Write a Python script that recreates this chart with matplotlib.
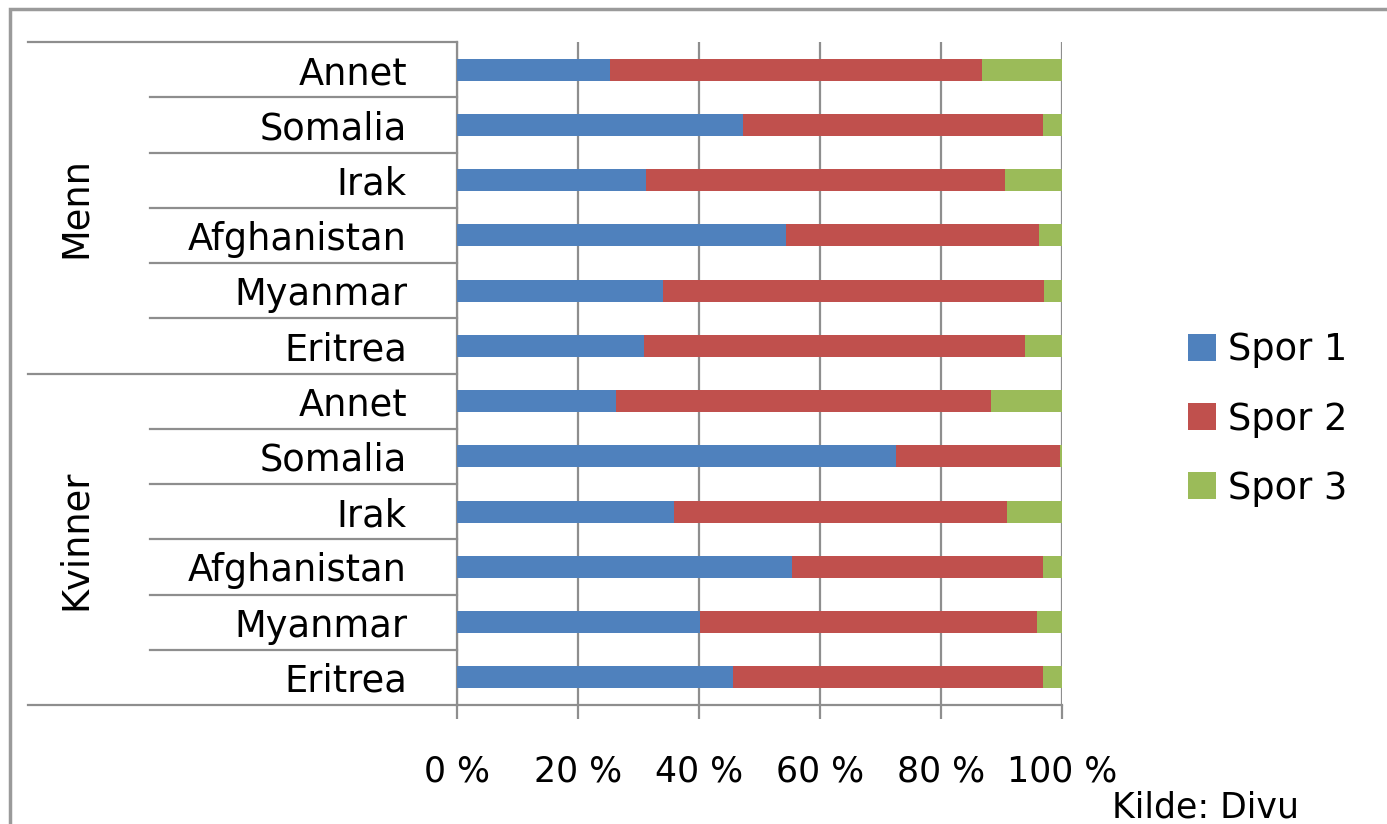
import matplotlib
matplotlib.use("Agg")
import matplotlib.pyplot as plt
from matplotlib.patches import Rectangle
import numpy as np

plt.rcParams['font.family'] = ['DejaVu Sans']

# ---------------- data ----------------
groups = ["Menn", "Kvinner"]
countries = ["Annet", "Somalia", "Irak", "Afghanistan", "Myanmar", "Eritrea"]
series = ["Spor 1", "Spor 2", "Spor 3"]

# values in %, rows top->bottom: Menn (Annet..Eritrea), Kvinner (Annet..Eritrea)
spor1 = [25.3, 47.3, 31.2, 54.3, 34.1, 30.9,
         26.3, 72.5, 35.9, 55.4, 40.1, 45.6]
spor2 = [61.5, 49.5, 59.4, 41.9, 62.9, 63.0,
         62.0, 27.2, 55.0, 41.4, 55.8, 51.2]
spor3 = [13.2, 3.2, 9.4, 3.8, 3.0, 6.1,
         11.7, 0.3, 9.1, 3.2, 4.1, 3.2]

xticks = [0, 20, 40, 60, 80, 100]
xtick_labels = ["0 %", "20 %", "40 %", "60 %", "80 %", "100 %"]

colors = ["#4F81BD", "#C0504D", "#9BBB59"]
grid_col = "#8e8e8e"

# ---------------- figure ----------------
W, H = 1387, 824
fig = plt.figure(figsize=(W / 100, H / 100), dpi=100)
ax_l, ax_r, ax_t, ax_b = 457, 1062, 42, 705
ax = fig.add_axes([ax_l / W, 1 - ax_b / H, (ax_r - ax_l) / W, (ax_b - ax_t) / H])

labels = countries + countries
n = len(labels)
y = np.arange(n) + 0.5
h = 0.40
left = np.zeros(n)
for vals, col, name in zip([spor1, spor2, spor3], colors, series):
    v = np.array(vals)
    ax.barh(y, v, left=left, height=h, color=col, label=name, zorder=3)
    left += v

ax.set_xlim(0, 100)
ax.set_ylim(n, 0)
ax.set_axisbelow(True)
ax.xaxis.grid(True, color=grid_col, lw=1.6)
ax.set_xticks(xticks)
ax.set_xticklabels(xtick_labels, fontsize=25)
ax.tick_params(axis='x', length=10, width=1.6, color=grid_col, pad=26)
ax.set_yticks(y)
ax.set_yticklabels(labels, fontsize=26.5)
ax.tick_params(axis='y', length=0, pad=36)

for s in ["top", "right"]:
    ax.spines[s].set_visible(False)
for s in ["left", "bottom"]:
    ax.spines[s].set_color(grid_col)
    ax.spines[s].set_linewidth(1.6)

# category table lines on the left
tr = ax.get_yaxis_transform()
x_in = (150 - ax_l) / (ax_r - ax_l)
x_out = (28 - ax_l) / (ax_r - ax_l)
for b in range(n + 1):
    x0 = x_out if b % len(countries) == 0 else x_in
    ax.plot([x0, 0], [b, b], transform=tr, color=grid_col, lw=1.6,
            clip_on=False, zorder=1)

# group labels
x_grp = (75 - ax_l) / (ax_r - ax_l)
for gi, g in enumerate(groups):
    yc = gi * len(countries) + len(countries) / 2
    ax.text(x_grp, yc, g, transform=tr, rotation=90, ha='center', va='center',
            fontsize=26.5)

# legend
ax.legend(loc='center left', bbox_to_anchor=(1188 / W, 1 - 419 / H),
          bbox_transform=fig.transFigure, frameon=False, fontsize=26.5,
          handlelength=0.75, handleheight=0.75, handletextpad=0.35,
          labelspacing=0.87, borderpad=0, borderaxespad=0)

# slide frame
fig.patches.append(Rectangle((10 / W, -0.2), 1.5, 1.2 - 9.5 / H,
                             transform=fig.transFigure, fill=False,
                             edgecolor="#9a9a9a", lw=2.5))

fig.text(1112 / W, 1 - 790 / H, "Kilde: Divu", fontsize=25, ha='left', va='top')

fig.savefig("out.png", dpi=100)
